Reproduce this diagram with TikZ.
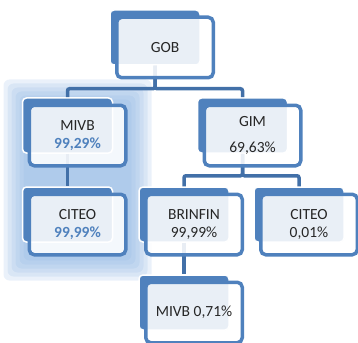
\documentclass[tikz,border=0pt]{standalone}
\usepackage{fontspec}
\setmainfont{Carlito}
\usetikzlibrary{positioning,backgrounds}

\definecolor{blockblue}{RGB}{79,129,189}
\definecolor{linkblue}{RGB}{66,112,168}
\definecolor{glowblue}{RGB}{141,180,226}
\definecolor{textgray}{RGB}{38,38,38}

\tikzset{
  backblock/.style={rectangle,fill=blockblue,draw=white,line width=1.5pt,rounded corners=4pt,
    minimum width=90pt,minimum height=55pt,inner sep=0pt},
  frontbox/.style={rectangle,draw=blockblue,line width=3.5pt,rounded corners=5pt,
    fill=white,fill opacity=0.88,text opacity=1,minimum width=96.5pt,minimum height=60.5pt,
    inner sep=0pt,align=center,text=textgray,font=\fontsize{15.5}{18.5}\selectfont},
  link/.style={draw=linkblue,line width=3.5pt,rounded corners=2pt},
}
\newcommand{\pctblue}[1]{{\color{blockblue}\bfseries #1}}

\begin{document}
\begin{tikzpicture}[x=1pt,y=-1pt]
    \useasboundingbox (0,0) rectangle (358,342);
    \node[frontbox] (gob) at (165,47.5) {GOB};
    \node[frontbox] (mivb) at (77.5,135.5) {MIVB\\\pctblue{99,29\%}};
    \node[frontbox] (gim) at (252.5,135.5) {GIM\\[7pt]69,63\%};
    \node[frontbox] (citeo1) at (77.5,224.5) {CITEO\\\pctblue{99,99\%}};
    \node[frontbox] (brinfin) at (194,224.5) {BRINFIN\\99,99\%};
    \node[frontbox] (citeo2) at (309,224.5) {CITEO\\0,01\%};
    \node[frontbox] (mivb2) at (194,312.5) {MIVB 0,71\%};
    \begin{pgfonlayer}{background}
      % highlight round the two selected boxes
      \foreach \g in {4,8,...,24}
        \fill[glowblue,opacity=0.18,rounded corners=6pt] ([shift={(-\g,-\g)}]mivb.north west) rectangle ([shift={(\g,\g)}]citeo1.south east);
      \foreach \n in {gob,mivb,gim,citeo1,brinfin,citeo2,mivb2}
        \node[backblock] (\n-b) at ([shift={(-10,-10)}]\n) {};
      \draw[link] (gob-b.south) -- ++(0,23) -| (mivb-b.north);
      \draw[link] (gob-b.south) -- ++(0,23) -| (gim-b.north);
      \draw[link] (mivb-b.south) -- (citeo1-b.north);
      \draw[link] (gim-b.south) -- ++(0,22) -| (brinfin-b.north);
      \draw[link] (gim-b.south) -- ++(0,22) -| (citeo2-b.north);
      \draw[link] (brinfin-b.south) -- (mivb2-b.north);
    \end{pgfonlayer}
\end{tikzpicture}
\end{document}
